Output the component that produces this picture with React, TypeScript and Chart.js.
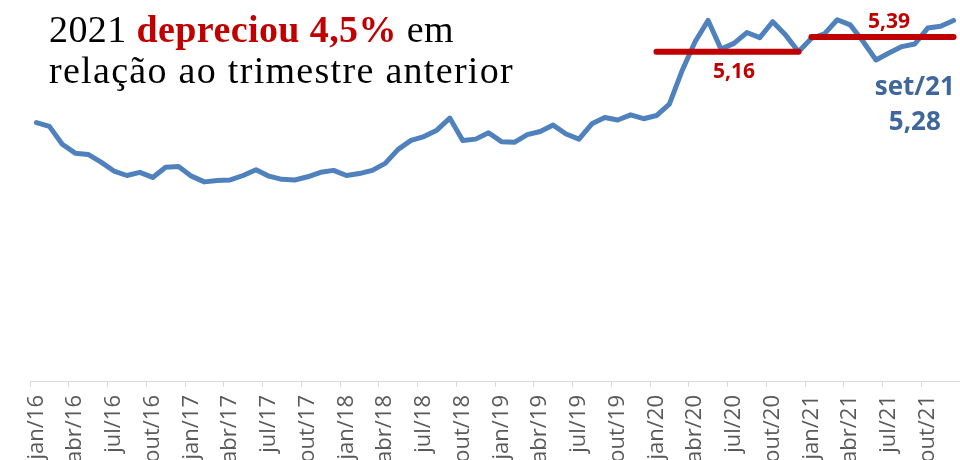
import React, { useEffect, useRef } from "react";
import { Chart, registerables } from "chart.js";

Chart.register(...registerables);

const MONTHS = ["jan", "fev", "mar", "abr", "mai", "jun", "jul", "ago", "set", "out", "nov", "dez"];
const YEARS = ["16", "17", "18", "19", "20", "21"];

const RATE_2016 = [4.05, 3.99, 3.71, 3.57, 3.55, 3.43, 3.29, 3.22, 3.27, 3.19, 3.35, 3.36];
const RATE_2017 = [3.21, 3.12, 3.14, 3.15, 3.22, 3.31, 3.21, 3.16, 3.15, 3.2, 3.27, 3.3];
const RATE_2018 = [3.22, 3.25, 3.3, 3.41, 3.63, 3.77, 3.83, 3.93, 4.12, 3.77, 3.79, 3.89];
const RATE_2019 = [3.75, 3.74, 3.86, 3.91, 4.01, 3.87, 3.79, 4.03, 4.13, 4.09, 4.17, 4.11];
const RATE_2020 = [4.16, 4.34, 4.87, 5.32, 5.65, 5.2, 5.29, 5.46, 5.38, 5.63, 5.42, 5.16];
const RATE_2021 = [5.37, 5.44, 5.66, 5.58, 5.32, 5.03, 5.14, 5.24, 5.28, 5.53, 5.56, 5.65];

const AVG_YEARS = ["20", "21"];
const AVG_VALUES = [5.16, 5.39];
const AVG_TEXT = ["5,16", "5,39"];

const HIGHLIGHT_LABEL = "set/21";
const HIGHLIGHT_TEXT = "5,28";

const LABELS = YEARS.flatMap((y) => MONTHS.map((m) => `${m}/${y}`));
const RATES = [...RATE_2016, ...RATE_2017, ...RATE_2018, ...RATE_2019, ...RATE_2020, ...RATE_2021];

const BLUE = "#4F81BD";
const RED = "#C00000";
const DARK_BLUE = "#3F679B";

const avgData = (yi: number) =>
  LABELS.map((l) => (l.endsWith("/" + AVG_YEARS[yi]) ? AVG_VALUES[yi] : null));

const annotPlugin = {
  id: "annot",
  afterDatasetsDraw(chart: any) {
    const { ctx, scales } = chart;
    const x = scales.x;
    const y = scales.y;
    ctx.save();
    ctx.textAlign = "center";
    ctx.textBaseline = "alphabetic";
    ctx.fillStyle = RED;
    ctx.font = 'bold 21px "Open Sans"';
    ctx.fillText(AVG_TEXT[0], x.getPixelForValue(LABELS.indexOf("jul/20")), y.getPixelForValue(AVG_VALUES[0]) + 26);
    ctx.fillText(AVG_TEXT[1], x.getPixelForValue(LABELS.indexOf("jul/21")), y.getPixelForValue(AVG_VALUES[1]) - 9);
    const hi = LABELS.indexOf(HIGHLIGHT_LABEL);
    const hx = x.getPixelForValue(hi);
    const hy = y.getPixelForValue(RATES[hi]);
    ctx.fillStyle = DARK_BLUE;
    ctx.font = 'bold 26px "Open Sans"';
    ctx.fillText(HIGHLIGHT_LABEL, hx, hy + 51);
    ctx.fillText(HIGHLIGHT_TEXT, hx, hy + 86);
    ctx.restore();
  },
};

export default function App() {
  const ref = useRef<HTMLCanvasElement>(null);
  useEffect(() => {
    if (!ref.current) return;
    const chart = new Chart(ref.current, {
      type: "line",
      data: {
        labels: LABELS,
        datasets: [
          {
            data: avgData(0),
            borderColor: RED,
            borderWidth: 6,
            pointRadius: 0,
            borderCapStyle: "round",
            spanGaps: false,
          },
          {
            data: avgData(1),
            borderColor: RED,
            borderWidth: 6,
            pointRadius: 0,
            borderCapStyle: "round",
            spanGaps: false,
          },
          {
            data: RATES,
            borderColor: BLUE,
            borderWidth: 5,
            pointRadius: 0,
            borderJoinStyle: "round",
            borderCapStyle: "round",
            tension: 0,
          },
        ],
      },
      options: {
        animation: false,
        responsive: false,
        layout: { padding: { left: 30, right: 0, top: 0, bottom: 0 } },
        plugins: { legend: { display: false }, tooltip: { enabled: false } },
        scales: {
          x: {
            offset: true,
            grid: {
              offset: true,
              drawOnChartArea: false,
              drawTicks: true,
              tickLength: 6,
              color: (c: any) => (c.index !== undefined && c.index % 3 === 0 ? "#D9D9D9" : "rgba(0,0,0,0)"),
            },
            border: { display: true, color: "#D9D9D9", width: 1 },
            ticks: {
              autoSkip: false,
              maxRotation: 90,
              minRotation: 90,
              padding: 8,
              color: "#595959",
              font: { family: '"Open Sans"', size: 22 },
              callback: (_v: any, i: number) => (i % 3 === 0 ? LABELS[i] : ""),
            },
            afterFit: (s: any) => {
              s.height = 79;
              s.paddingLeft = 0;
              s.paddingRight = 0;
            },
          },
          y: { display: false, min: 0, max: 5.97 },
        },
      },
      plugins: [annotPlugin],
    });
    return () => chart.destroy();
  }, []);
  return (
    <div style={{ position: "absolute", left: 0, top: 0, width: 960, height: 460, background: "#fff" }}>
      <canvas ref={ref} width={960} height={460} style={{ display: "block" }} />
      <div
        style={{
          position: "absolute",
          left: 49,
          top: 9,
          fontFamily: '"Liberation Serif", serif',
          fontSize: 38,
          lineHeight: "41px",
          color: "#000",
          whiteSpace: "nowrap",
        }}
      >
        <div style={{ letterSpacing: 0.4 }}>
          2021 <b style={{ color: RED }}>depreciou 4,5%</b> em
        </div>
        <div style={{ letterSpacing: 1.3 }}>relação ao trimestre anterior</div>
      </div>
    </div>
  );
}
